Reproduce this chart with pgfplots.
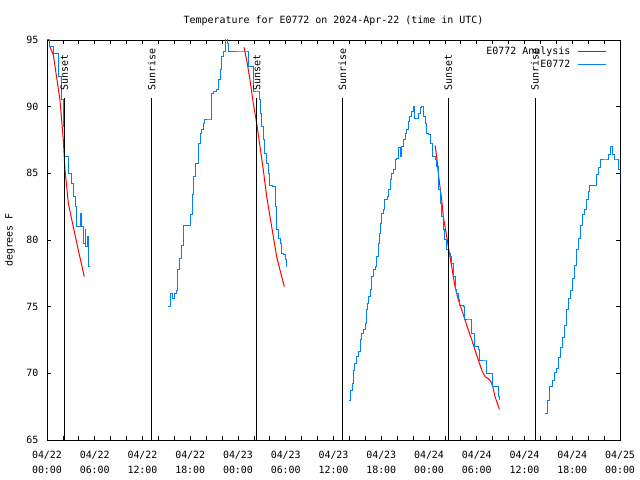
\documentclass[border=0pt]{standalone}
\usepackage{pgfplots}
\usepackage{pgfplotstable}
\pgfplotsset{compat=1.18}
\usepackage{fontspec}
\setmainfont{DejaVu Sans Mono}
\definecolor{obsblue}{RGB}{0,128,255}
\definecolor{anared}{RGB}{255,0,0}

\pgfplotstableread{
h t
0.29 94.6
0.79 93.9
1.63 90.5
2.05 87.5
2.26 85.25
2.68 82.75
3.30 81
3.93 79.25
4.69 77.25
nan nan
24.76 94.45
25.09 93.5
25.51 92
25.92 90.25
26.35 88.75
26.77 87
27.18 85.25
27.61 83.25
28.02 81.75
28.44 80.25
28.86 78.75
29.28 77.75
29.82 76.5
nan nan
48.76 87.1
48.97 86.25
49.17 85
49.38 84
49.60 83
49.80 81.75
50.01 81
50.23 80.25
50.43 79.5
50.64 78.75
50.85 78
51.06 77.25
51.27 76.5
51.48 76
51.69 75.5
52.11 74.75
52.53 74
52.94 73.25
53.38 72.5
53.78 71.75
54.20 71
54.62 70.25
55.04 69.75
55.46 69.6
55.76 69.4
56.01 69
56.30 68.25
56.59 67.75
56.84 67.3
}\analysis

\pgfplotstableread{
h t
0.00 95.0
0.34 94.5
0.79 94.0
1.42 92.25
1.85 90.5
2.05 88.5
2.26 86.25
2.68 85
3.10 84.25
3.30 83.25
3.52 82.5
3.73 81
4.15 82
4.36 81
4.56 79.75
4.78 80.75
4.90 79.5
5.11 80.25
5.19 78
5.40 78
nan nan
15.21 75
15.46 76
15.71 75.6
15.96 76
16.21 76.2
16.46 77.75
16.71 78.6
16.96 79.6
17.21 81.1
17.72 81.1
17.97 81.9
18.22 83.4
18.38 84.75
18.60 85.75
19.01 87.25
19.23 88
19.44 88.25
19.64 88.75
19.85 89
20.48 89
20.70 91
20.90 91.1
21.32 91.25
21.53 92
21.74 92.75
21.95 93.75
22.15 94.1
22.37 94.6
22.49 95.2
22.66 94.75
22.78 94.1
25.01 94.1
25.30 93
25.85 93
26.01 91.1
26.55 91.1
26.68 90.5
26.85 89.5
26.98 88.5
27.18 87.5
27.39 86.5
27.61 85.75
27.81 85
28.02 84.1
28.36 84
28.65 82.5
28.86 80.75
29.07 80.1
29.37 79.75
29.49 79
29.78 78.9
29.91 78.5
30.12 78
nan nan
37.99 68
38.16 68.75
38.33 69.25
38.49 70.25
38.67 70.75
38.83 71.25
39.12 71.6
39.33 72
39.42 72.5
39.58 73
39.83 73.25
39.96 73.75
40.09 74.25
40.17 74.75
40.30 75.25
40.43 75.75
40.59 76.25
40.80 77.25
41.00 77.75
41.31 78
41.43 78.75
41.63 79.75
41.72 80.5
41.85 81.25
42.06 82
42.26 82.25
42.47 83
42.76 83.25
42.94 83.75
43.10 84.5
43.32 85
43.52 85.25
43.73 86
43.94 86.1
44.14 86.9
44.36 86.25
44.57 87
44.77 87.5
44.99 88
45.20 88.25
45.40 88.9
45.61 89.25
45.83 89.6
46.03 90
46.24 89.1
46.46 89.1
46.66 89.5
46.87 89.9
47.09 90
47.29 89.25
47.50 88.75
47.63 88
47.91 87.9
48.13 87.25
48.47 86.25
48.76 86
48.97 85.5
49.17 83.75
49.47 82.75
49.60 81.75
49.80 80.75
50.01 80
50.23 79.25
50.43 79
50.64 78.75
50.85 78.25
51.06 77.25
51.27 76.25
51.48 76
51.69 75.5
51.82 75.1
52.32 75
52.45 74
53.16 74
53.38 73
53.70 72
54.20 71.75
54.33 71
55.17 71
55.26 70
55.88 70
56.01 69
56.59 69
56.76 68.25
56.84 68
nan nan
62.58 67
62.83 68
63.08 69
63.46 69.5
63.71 70.1
63.96 70.4
64.21 71.2
64.47 71.9
64.72 72.7
64.97 73.6
65.22 74.75
65.47 75.6
65.72 76.2
65.97 77.1
66.22 78.1
66.48 79.25
66.73 80.1
66.98 81.1
67.23 81.9
67.48 82.25
67.73 83
67.98 83.6
68.23 84.1
68.74 84.1
68.99 84.9
69.24 85.4
69.49 86
70.24 86
70.50 86.4
70.75 87
71.00 86.4
71.25 86
71.50 86
71.75 85.25
72.00 84.1
}\observed

\begin{document}
\begin{tikzpicture}
\begin{axis}[
  scale only axis,
  width=573bp, height=400bp,
  at={(0,0)}, anchor=south west,
  xmin=0, xmax=72, ymin=65, ymax=95,
  xtick={0,6,...,72},
  minor xtick={0,2,...,72},
  xticklabels={04/22\\00:00,04/22\\06:00,04/22\\12:00,04/22\\18:00,04/23\\00:00,04/23\\06:00,04/23\\12:00,04/23\\18:00,04/24\\00:00,04/24\\06:00,04/24\\12:00,04/24\\18:00,04/25\\00:00},
  ytick={65,70,...,95},
  major tick length=4bp, minor tick length=4bp,
  tick align=inside,
  every tick/.style={black, line width=0.8bp},
  axis line style={line width=0.9bp},
  tick label style={font=\fontsize{10}{15}\selectfont},
  xticklabel style={align=center, yshift=-8bp},
  yticklabel style={xshift=-5bp},
  /pgf/number format/assume math mode=true,
  unbounded coords=jump,
  title={Temperature for E0772 on 2024-Apr-22 (time in UTC)},
  title style={font=\fontsize{10}{12}\selectfont, at={(axis description cs:0.5,1)}, anchor=center, yshift=13bp},
  ylabel={degrees F},
  ylabel style={font=\fontsize{10}{12}\selectfont, at={(axis description cs:0,0.5)}, anchor=center, yshift=37bp},
  legend style={at={(axis description cs:1,1)}, anchor=north east, xshift=-10bp, yshift=-3bp,
    draw=none, fill=none, font=\fontsize{10}{12}\selectfont, row sep=1bp, column sep=6bp,
    nodes={inner sep=1.5bp}},
  legend cell align=right,
  legend plot pos=right,
  legend image code/.code={\draw[#1] (0bp,0bp) -- (28bp,0bp);},
]
\addplot[anared, line width=1bp] table[x=h,y=t] {\analysis};
\addlegendentry{E0772 Analysis}
\addplot[obsblue, line width=1bp, const plot] table[x=h,y=t] {\observed};
\addlegendentry{E0772}
% sunset / sunrise markers
\addplot[black, line width=1bp, forget plot] coordinates {(2.16,65) (2.16,90.65)};
\addplot[black, line width=1bp, forget plot] coordinates {(13.15,65) (13.15,90.65)};
\addplot[black, line width=1bp, forget plot] coordinates {(26.35,65) (26.35,90.65)};
\addplot[black, line width=1bp, forget plot] coordinates {(37.11,65) (37.11,90.65)};
\addplot[black, line width=1bp, forget plot] coordinates {(50.43,65) (50.43,90.65)};
\addplot[black, line width=1bp, forget plot] coordinates {(61.32,65) (61.32,90.65)};
\node[rotate=90, anchor=west, inner sep=0pt, font=\fontsize{10}{12}\selectfont] at ([yshift=7bp]axis cs:2.16,90.65) {Sunset};
\node[rotate=90, anchor=west, inner sep=0pt, font=\fontsize{10}{12}\selectfont] at ([yshift=7bp]axis cs:13.15,90.65) {Sunrise};
\node[rotate=90, anchor=west, inner sep=0pt, font=\fontsize{10}{12}\selectfont] at ([yshift=7bp]axis cs:26.35,90.65) {Sunset};
\node[rotate=90, anchor=west, inner sep=0pt, font=\fontsize{10}{12}\selectfont] at ([yshift=7bp]axis cs:37.11,90.65) {Sunrise};
\node[rotate=90, anchor=west, inner sep=0pt, font=\fontsize{10}{12}\selectfont] at ([yshift=7bp]axis cs:50.43,90.65) {Sunset};
\node[rotate=90, anchor=west, inner sep=0pt, font=\fontsize{10}{12}\selectfont] at ([yshift=7bp]axis cs:61.32,90.65) {Sunrise};
\end{axis}
\pgfresetboundingbox
\path[use as bounding box] (-47bp,-40bp) rectangle (593bp,440bp);
\end{tikzpicture}
\end{document}
